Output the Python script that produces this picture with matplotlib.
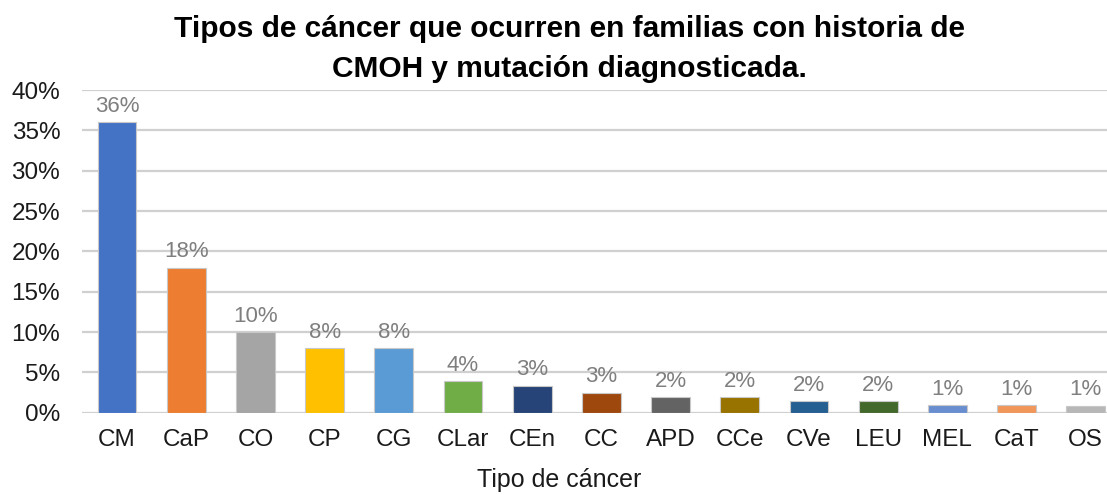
import numpy as np
import matplotlib.pyplot as plt

plt.rcParams['font.family'] = ['Liberation Sans', 'DejaVu Sans']

categories = ["CM", "CaP", "CO", "CP", "CG", "CLar", "CEn", "CC", "APD", "CCe",
              "CVe", "LEU", "MEL", "CaT", "OS"]
values = [36, 18, 10, 8, 8, 3.9, 3.35, 2.5, 1.9, 1.95, 1.45, 1.45, 0.95, 0.95, 0.9]
labels = ["36%", "18%", "10%", "8%", "8%", "4%", "3%", "3%", "2%", "2%",
          "2%", "2%", "1%", "1%", "1%"]
colors = ["#4472C4", "#ED7D31", "#A5A5A5", "#FFC000", "#5B9BD5", "#70AD47",
          "#264478", "#9E480E", "#636363", "#997300", "#255E91", "#43682B",
          "#698ED0", "#F1975A", "#B7B7B7"]

fig = plt.figure(figsize=(11.07, 4.95), dpi=100)
ax = fig.add_axes([0.0745, 0.166, 0.9375, 0.652])

x = np.arange(len(categories))
ax.bar(x, values, width=0.56, color=colors, edgecolor="#c8c8c8", linewidth=0.8, zorder=3)
for xi, v, lab in zip(x, values, labels):
    ax.annotate(lab, (xi, v), xytext=(0, 4), textcoords="offset points",
                ha="center", va="bottom", fontsize=16, color="#7f7f7f", zorder=4)

ax.set_xlim(-0.5, len(categories) - 0.5)
ax.set_ylim(0, 40)
ax.set_yticks(np.arange(0, 41, 5))
ax.set_yticklabels([f"{t}%" for t in range(0, 41, 5)])
ax.set_xticks(x)
ax.set_xticklabels(categories)
ax.tick_params(axis="both", length=0, labelsize=17.5, colors="#1a1a1a")
ax.tick_params(axis="y", pad=16)
ax.tick_params(axis="x", pad=12)
ax.grid(axis="y", color="#d0d0d0", linewidth=1.6, zorder=0)
for s in ax.spines.values():
    s.set_visible(False)

fig.text(0.5145, 1 - 37 / 495, "Tipos de cáncer que ocurren en familias con historia de",
         ha="center", va="baseline", fontsize=21.5, fontweight="bold")
fig.text(0.5145, 1 - 77 / 495, "CMOH y mutación diagnosticada.",
         ha="center", va="baseline", fontsize=21.5, fontweight="bold")
fig.text(0.5055, 0.016, "Tipo de cáncer", ha="center", va="baseline", fontsize=18, color="#1a1a1a")

fig.savefig("out.png", dpi=100)
